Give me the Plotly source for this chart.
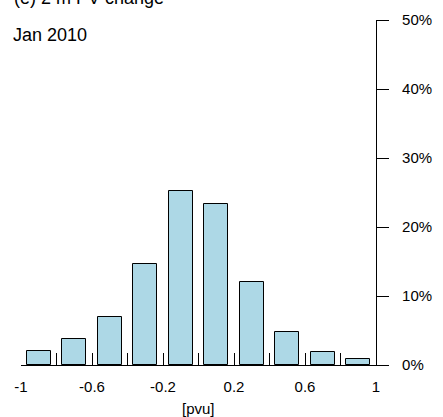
import plotly.graph_objects as go

bin_centers = [-0.9, -0.7, -0.5, -0.3, -0.1, 0.1, 0.3, 0.5, 0.7, 0.9]
percent = [2.1, 3.7, 7.0, 14.7, 25.2, 23.3, 12.1, 4.8, 1.9, 0.9]
x_tickvals = [-1, -0.8, -0.6, -0.4, -0.2, 0, 0.2, 0.4, 0.6, 0.8, 1]
x_ticktext = ["-1", "", "-0.6", "", "-0.2", "", "0.2", "", "0.6", "", "1"]
y_tickvals = [0, 10, 20, 30, 40, 50]
y_ticktext = ["0%", "10%", "20%", "30%", "40%", "50%"]
title_text = "(e) 2 m PV change"
subtitle_text = "Jan 2010"
x_label = "[pvu]"

FONT = "Liberation Sans, Arial, Helvetica, sans-serif"

fig = go.Figure()
fig.add_trace(go.Bar(
    x=bin_centers, y=percent, width=0.135,
    marker=dict(color="#ADD8E6", line=dict(color="black", width=1)),
    showlegend=False,
))

fig.update_layout(
    width=443, height=417,
    margin=dict(l=21, r=60, t=11, b=52),
    paper_bgcolor="white", plot_bgcolor="white",
    font=dict(family=FONT, color="black", size=15),
    bargap=0,
    xaxis=dict(
        range=[-1, 1], tickvals=x_tickvals, ticktext=x_ticktext,
        ticks="inside", ticklen=12, tickwidth=1, tickcolor="black",
        showline=True, linecolor="black", linewidth=1.2,
        showgrid=False, zeroline=False, ticklabelstandoff=8,
        tickfont=dict(size=15),
    ),
    yaxis=dict(
        range=[0, 50], side="right", tickvals=y_tickvals, ticktext=y_ticktext,
        ticks="outside", ticklen=12, tickwidth=1, tickcolor="black",
        showline=True, linecolor="black", linewidth=1.2,
        showgrid=False, zeroline=False, ticklabelstandoff=10,
        tickfont=dict(size=15),
    ),
    annotations=[
        dict(text=title_text, xref="paper", yref="paper", x=0, y=1.064,
             xanchor="left", yanchor="middle", xshift=-9, showarrow=False,
             font=dict(size=18)),
        dict(text=subtitle_text, xref="paper", yref="paper", x=0, y=0.957,
             xanchor="left", yanchor="middle", xshift=-10, showarrow=False,
             font=dict(size=18)),
        dict(text=x_label, xref="x", yref="paper", x=0, y=0,
             xanchor="center", yanchor="top", yshift=-33, showarrow=False,
             font=dict(size=15)),
    ],
)

fig.write_html("out.html")
